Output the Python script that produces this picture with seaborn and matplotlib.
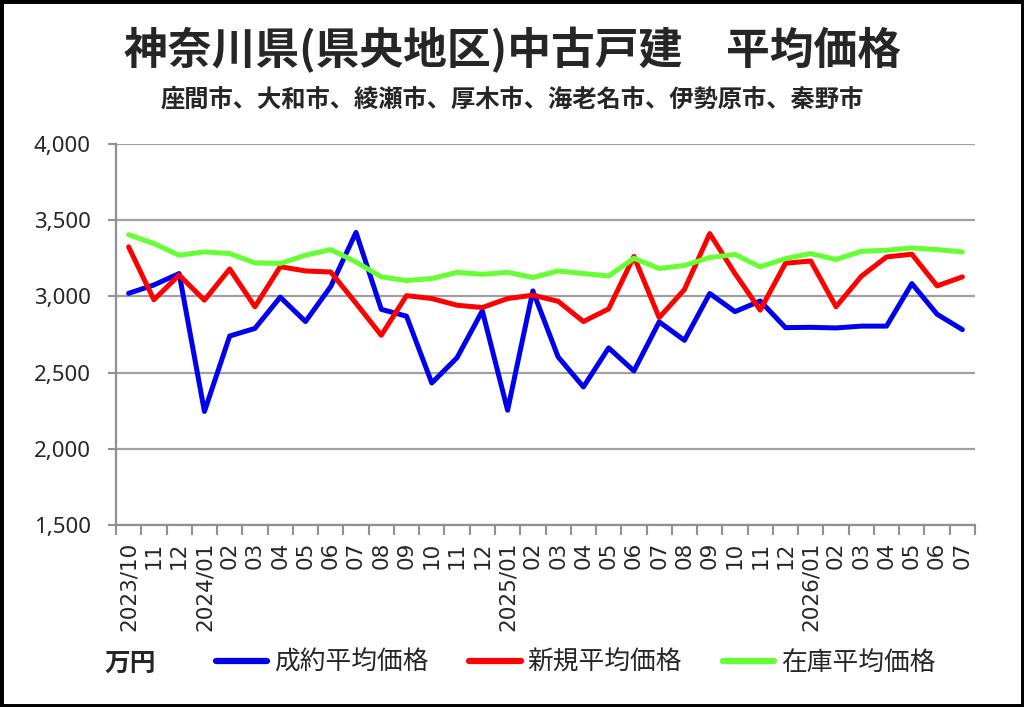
import numpy as np
import pandas as pd
import matplotlib
matplotlib.use("Agg")
import matplotlib.pyplot as plt
import seaborn as sns
from matplotlib.patches import Rectangle
from matplotlib.ticker import FuncFormatter, FixedLocator

# =========================================================
# DATA (万円)
# =========================================================

months = [
    "2023/10", "11", "12",
    "2024/01", "02", "03", "04", "05", "06", "07", "08", "09", "10", "11", "12",
    "2025/01", "02", "03", "04", "05", "06", "07", "08", "09", "10", "11", "12",
    "2026/01", "02", "03", "04", "05", "06", "07",
]

contract_price = [
    3020, 3075, 3150, 2245, 2740, 2790, 2995, 2835, 3065, 3420, 2915, 2870,
    2432, 2598, 2905, 2253, 3036, 2603, 2406, 2662, 2511, 2833, 2712,
    3019, 2900, 2970, 2795, 2797, 2793, 2805, 2805, 3084, 2883, 2782,
]

new_price = [
    3325, 2978, 3140, 2975, 3180, 2932, 3195, 3167, 3160, 2955, 2745, 3005,
    2986, 2942, 2927, 2986, 3008, 2968, 2835, 2918, 3262, 2861, 3045,
    3412, 3150, 2910, 3218, 3232, 2932, 3132, 3259, 3277, 3069, 3128,
]

stock_price = [
    3405, 3347, 3270, 3292, 3281, 3220, 3216, 3270, 3307, 3226, 3128, 3104,
    3117, 3158, 3145, 3158, 3124, 3167, 3150, 3134, 3250, 3183, 3203,
    3255, 3275, 3194, 3248, 3281, 3242, 3296, 3303, 3318, 3307, 3292,
]

series_names = ["成約平均価格", "新規平均価格", "在庫平均価格"]
series_colors = ["#0000ee", "#ff0000", "#66ff33"]

# =========================================================
# STYLE
# =========================================================

sns.set_style("white")
plt.rcParams["font.family"] = ["Noto Sans CJK JP", "DejaVu Sans"]

# =========================================================
# LONG TABLE
# =========================================================

pos = np.arange(len(months))
df = pd.concat([
    pd.DataFrame({"pos": pos, "price": vals, "series": name})
    for name, vals in zip(series_names, [contract_price, new_price, stock_price])
])

# =========================================================
# FIGURE
# =========================================================

fig = plt.figure(figsize=(10.24, 7.07), dpi=100)
ax = fig.add_axes([116 / 1024, 1 - 525 / 707, (975 - 116) / 1024, (525 - 144) / 707])

sns.lineplot(
    data=df,
    x="pos",
    y="price",
    hue="series",
    hue_order=series_names,
    palette=series_colors,
    linewidth=3.6,
    ax=ax,
    legend=False,
)

ax.set_xlim(-0.5, len(months) - 0.5)
ax.set_ylim(1500, 4000)
ax.set_xlabel("")
ax.set_ylabel("")

# y axis
ax.yaxis.set_major_locator(FixedLocator(np.arange(1500, 4001, 500)))
ax.yaxis.set_major_formatter(FuncFormatter(lambda v, p: f"{int(v):,}"))
ax.grid(axis="y", color="#a0a0a0", linewidth=1.6)
ax.set_axisbelow(True)
ax.tick_params(axis="y", which="major", length=6, width=1.5, color="#909090",
               pad=12, labelsize=16, left=True)
for lab in ax.get_yticklabels():
    lab.set_family(["Noto Sans", "DejaVu Sans"])

# x axis: labels at category centres, ticks at boundaries
ax.set_xticks(pos)
ax.set_xticklabels(months, rotation=90, fontsize=15.5, family="DejaVu Sans")
ax.set_xticks(np.arange(-0.5, len(months), 1), minor=True)
ax.tick_params(axis="x", which="major", length=0, pad=12)
ax.tick_params(axis="x", which="minor", length=7, width=1.5, color="#909090",
               bottom=True)

for side in ["top", "right"]:
    ax.spines[side].set_visible(False)
for side in ["left", "bottom"]:
    ax.spines[side].set_color("#909090")
    ax.spines[side].set_linewidth(1.6)

# =========================================================
# TITLES
# =========================================================

fig.text(0.5, 1 - 50 / 707, "神奈川県(県央地区)中古戸建　平均価格",
         ha="center", va="center", fontsize=31.5, fontweight="bold")
fig.text(0.5, 1 - 100 / 707, "座間市、大和市、綾瀬市、厚木市、海老名市、伊勢原市、秦野市",
         ha="center", va="center", fontsize=17.5, fontweight="bold")

# =========================================================
# LEGEND
# =========================================================

fig.text(105 / 1024, 1 - 663 / 707, "万円", ha="left", va="center",
         fontsize=18.5, fontweight="bold")

handles = [plt.Line2D([], [], color=c, linewidth=4.5) for c in series_colors]
fig.legend(
    handles,
    series_names,
    loc="center left",
    bbox_to_anchor=(216 / 1024, 1 - 663 / 707),
    ncol=3,
    frameon=False,
    fontsize=18.5,
    handlelength=2.0,
    handletextpad=0.25,
    columnspacing=1.6,
    borderpad=0,
    borderaxespad=0,
)

# outer frame
fig.patches.append(Rectangle((0, 0), 1, 1, transform=fig.transFigure,
                             fill=False, edgecolor="black", linewidth=5))

fig.savefig("out.png", dpi=100)
